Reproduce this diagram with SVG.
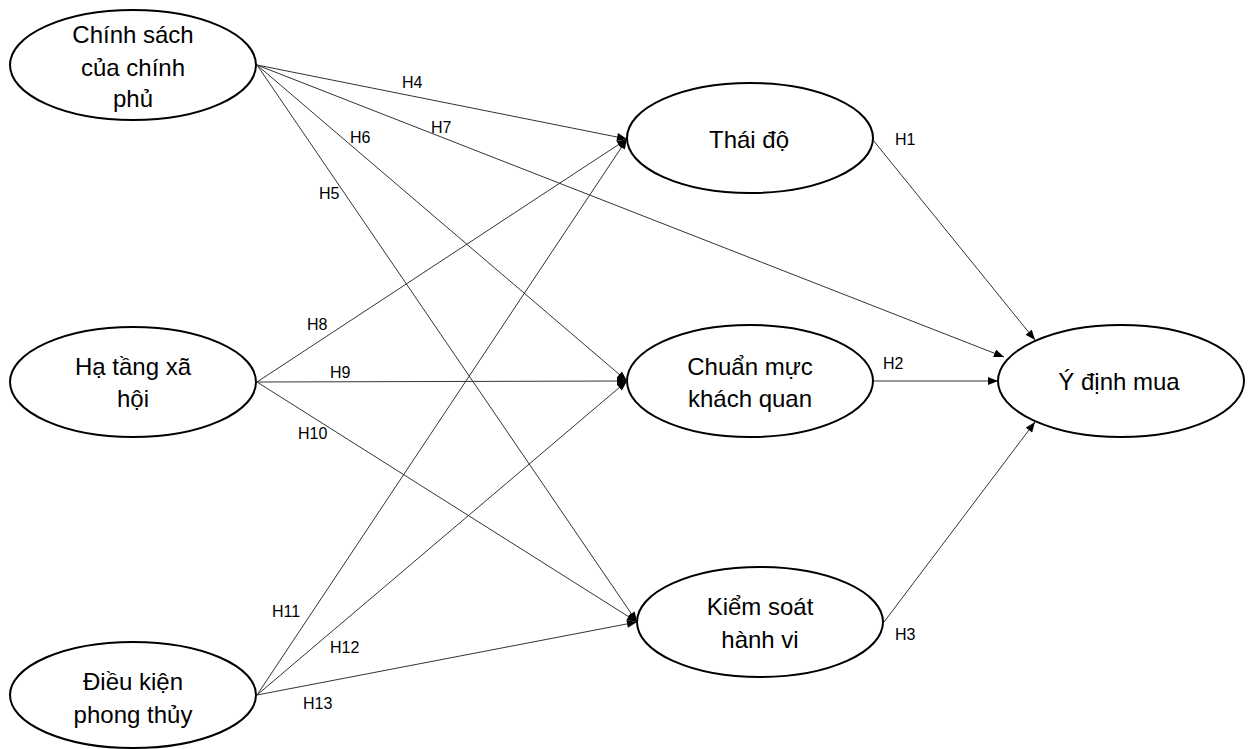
<svg xmlns="http://www.w3.org/2000/svg" width="1248" height="749" viewBox="0 0 1248 749">
<style>
.node ellipse{fill:#fff;stroke:#000;stroke-width:2}
.node text{font-family:"Liberation Sans",Arial,sans-serif;font-size:24px;fill:#000;text-anchor:middle}
.edges line{stroke:#333;stroke-width:1;marker-end:url(#ah)}
.lbl{font-family:"Liberation Sans",Arial,sans-serif;font-size:16px;fill:#000}
</style>
<defs>
<marker id="ah" viewBox="0 0 10 8" refX="10" refY="4" markerWidth="11" markerHeight="8" markerUnits="userSpaceOnUse" orient="auto">
<path d="M0,0 L10,4 L0,8 Z" fill="#000"/>
</marker>
</defs>
<rect width="1248" height="749" fill="#fff"/>
<g class="edges">
<line x1="257" y1="65" x2="627" y2="139"/>
<line x1="257" y1="65" x2="627" y2="381"/>
<line x1="257" y1="65" x2="637" y2="622"/>
<line x1="257" y1="65" x2="1004" y2="357"/>
<line x1="257" y1="382" x2="627" y2="139"/>
<line x1="257" y1="382" x2="627" y2="381"/>
<line x1="257" y1="382" x2="637" y2="622"/>
<line x1="257" y1="695" x2="627" y2="139"/>
<line x1="257" y1="695" x2="627" y2="381"/>
<line x1="257" y1="695" x2="637" y2="622"/>
<line x1="873" y1="140" x2="1035" y2="340"/>
<line x1="873" y1="381" x2="998" y2="381"/>
<line x1="884" y1="622" x2="1035" y2="422"/>
</g>
<g id="labels">
<text class="lbl" x="402" y="88">H4</text>
<text class="lbl" x="431" y="133">H7</text>
<text class="lbl" x="350" y="143">H6</text>
<text class="lbl" x="319" y="199">H5</text>
<text class="lbl" x="307" y="330">H8</text>
<text class="lbl" x="330" y="378">H9</text>
<text class="lbl" x="298" y="439">H10</text>
<text class="lbl" x="272" y="617">H11</text>
<text class="lbl" x="330" y="653">H12</text>
<text class="lbl" x="303" y="709">H13</text>
<text class="lbl" x="895" y="145">H1</text>
<text class="lbl" x="883" y="369">H2</text>
<text class="lbl" x="895" y="640">H3</text>
</g>
<g id="n-chinhsach" class="node">
<ellipse cx="133" cy="65" rx="123" ry="55"/>
<text x="133" y="43">Chính sách</text>
<text x="133" y="76">của chính</text>
<text x="133" y="107">phủ</text>
</g>
<g id="n-hatang" class="node">
<ellipse cx="133" cy="382" rx="123" ry="55"/>
<text x="133" y="375">Hạ tầng xã</text>
<text x="133" y="407">hội</text>
</g>
<g id="n-dieukien" class="node">
<ellipse cx="133" cy="695" rx="123" ry="53"/>
<text x="133" y="690">Điều kiện</text>
<text x="133" y="723">phong thủy</text>
</g>
<g id="n-thaido" class="node">
<ellipse cx="750" cy="138" rx="123" ry="55"/>
<text x="749" y="148">Thái độ</text>
</g>
<g id="n-chuanmuc" class="node">
<ellipse cx="750" cy="381" rx="123" ry="56"/>
<text x="750" y="375">Chuẩn mực</text>
<text x="750" y="407">khách quan</text>
</g>
<g id="n-kiemsoat" class="node">
<ellipse cx="760" cy="622" rx="123" ry="55"/>
<text x="760" y="615">Kiểm soát</text>
<text x="760" y="648">hành vi</text>
</g>
<g id="n-ydinh" class="node">
<ellipse cx="1121" cy="381" rx="123" ry="56"/>
<text x="1119" y="390">Ý định mua</text>
</g>
</svg>
